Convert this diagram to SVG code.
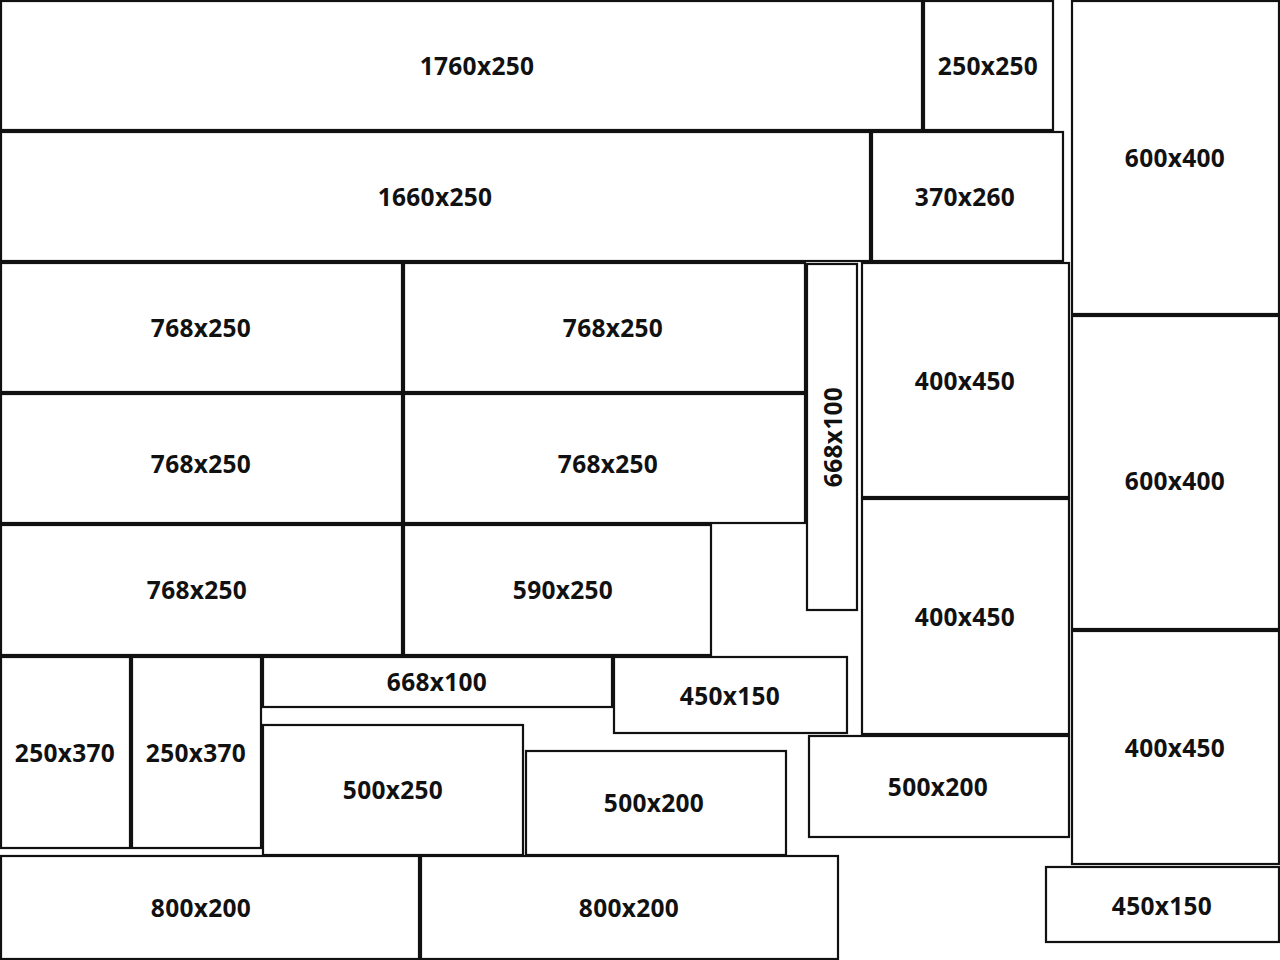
<svg xmlns="http://www.w3.org/2000/svg" width="1280" height="960" viewBox="0 0 1280 960">
<style>
.b{fill:#fff;stroke:#111;stroke-width:2.2}
.t{font-family:"Open Sans","Noto Sans",sans-serif;font-weight:700;font-size:24.5px;letter-spacing:0.3px;fill:#111;text-anchor:middle;dominant-baseline:central}
</style>
<rect width="1280" height="960" fill="#fff"/>
<g id="n1"><rect class="b" x="1" y="1" width="921" height="129"/><text class="t" x="477" y="65">1760x250</text></g>
<g id="n2"><rect class="b" x="924" y="1" width="129" height="129"/><text class="t" x="988" y="65">250x250</text></g>
<g id="n3"><rect class="b" x="1072" y="1" width="207" height="313"/><text class="t" x="1175" y="157">600x400</text></g>
<g id="n4"><rect class="b" x="1" y="132" width="869" height="129"/><text class="t" x="435" y="196">1660x250</text></g>
<g id="n5"><rect class="b" x="872" y="132" width="191" height="129"/><text class="t" x="965" y="196">370x260</text></g>
<g id="n6"><rect class="b" x="1" y="263" width="401" height="129"/><text class="t" x="201" y="327">768x250</text></g>
<g id="n7"><rect class="b" x="404" y="263" width="401" height="129"/><text class="t" x="613" y="327">768x250</text></g>
<g id="n8"><rect class="b" x="807" y="264" width="50" height="346"/><text class="t" transform="translate(832 437) rotate(-90)" x="0" y="0">668x100</text></g>
<g id="n9"><rect class="b" x="862" y="263" width="207" height="234"/><text class="t" x="965" y="380">400x450</text></g>
<g id="n10"><rect class="b" x="1072" y="316" width="207" height="313"/><text class="t" x="1175" y="480">600x400</text></g>
<g id="n11"><rect class="b" x="1" y="394" width="401" height="129"/><text class="t" x="201" y="463">768x250</text></g>
<g id="n12"><rect class="b" x="404" y="394" width="401" height="129"/><text class="t" x="608" y="463">768x250</text></g>
<g id="n13"><rect class="b" x="862" y="499" width="207" height="235"/><text class="t" x="965" y="616">400x450</text></g>
<g id="n14"><rect class="b" x="1" y="525" width="401" height="130"/><text class="t" x="197" y="589">768x250</text></g>
<g id="n15"><rect class="b" x="404" y="525" width="307" height="130"/><text class="t" x="563" y="589">590x250</text></g>
<g id="n16"><rect class="b" x="1072" y="631" width="207" height="233"/><text class="t" x="1175" y="747">400x450</text></g>
<g id="n17"><rect class="b" x="1" y="657" width="129" height="191"/><text class="t" x="65" y="752">250x370</text></g>
<g id="n18"><rect class="b" x="132" y="657" width="129" height="191"/><text class="t" x="196" y="752">250x370</text></g>
<g id="n19"><rect class="b" x="263" y="657" width="349" height="50"/><text class="t" x="437" y="681">668x100</text></g>
<g id="n20"><rect class="b" x="614" y="657" width="233" height="76"/><text class="t" x="730" y="695">450x150</text></g>
<g id="n21"><rect class="b" x="263" y="725" width="260" height="130"/><text class="t" x="393" y="789">500x250</text></g>
<g id="n22"><rect class="b" x="526" y="751" width="260" height="104"/><text class="t" x="654" y="802">500x200</text></g>
<g id="n23"><rect class="b" x="809" y="736" width="260" height="101"/><text class="t" x="938" y="786">500x200</text></g>
<g id="n24"><rect class="b" x="1046" y="867" width="233" height="75"/><text class="t" x="1162" y="905">450x150</text></g>
<g id="n25"><rect class="b" x="1" y="856" width="418" height="103"/><text class="t" x="201" y="907">800x200</text></g>
<g id="n26"><rect class="b" x="421" y="856" width="417" height="103"/><text class="t" x="629" y="907">800x200</text></g>
<g id="connectors"></g>
</svg>
